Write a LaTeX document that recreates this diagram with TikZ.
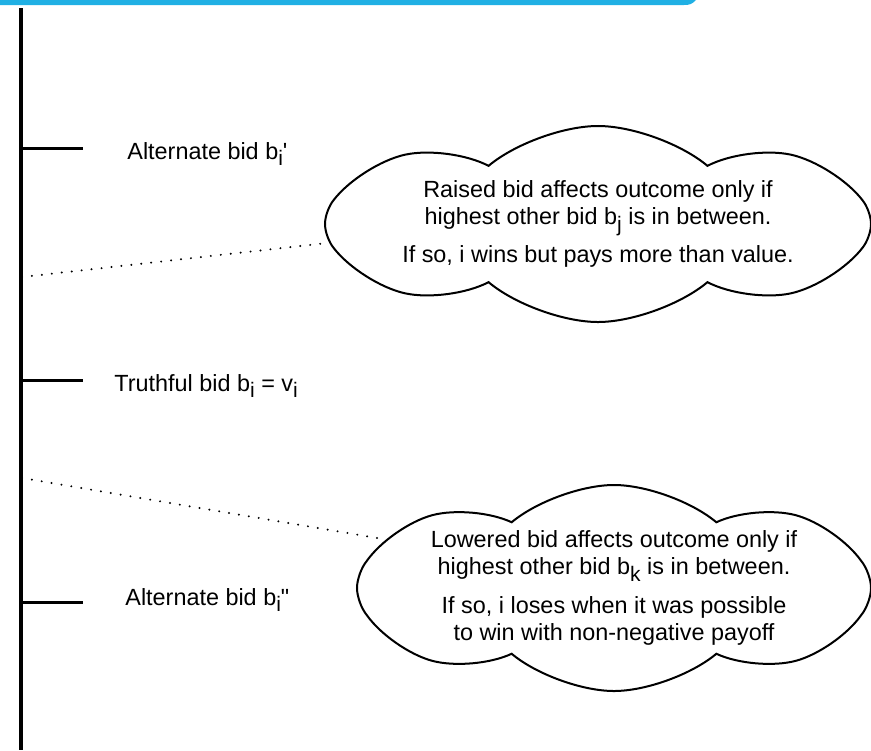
\documentclass[tikz,border=0pt]{standalone}
\usepackage{fontspec}
\setmainfont{Liberation Sans}
\usetikzlibrary{shapes.symbols}
\definecolor{barblue}{RGB}{32,176,228}
\newcommand{\lowsub}[1]{\raisebox{-0.55ex}{\fontsize{10.5}{10.5}\selectfont #1}}

\begin{document}
\begin{tikzpicture}[x=0.5pt, y=-0.5pt,
  tick/.style={line width=1.5pt},
  bidlabel/.style={anchor=base west, inner sep=0pt, font=\fontsize{11.7}{14}\selectfont},
  thought/.style={cloud, draw, line width=1pt, cloud puffs=8, cloud puff arc=80,
    cloud ignores aspect, align=center, inner xsep=0pt, inner ysep=-9pt,
    font=\fontsize{11.7}{13.5}\selectfont},
  link/.style={line width=1.1pt, dash pattern=on 0pt off 5pt, line cap=round}
]
\useasboundingbox (0,0) rectangle (871,750);

% header bar
\fill[barblue] (0,0) -- (696,0) .. controls (692,4) and (690,5) .. (684,5) -- (0,5) -- cycle;

% bid axis with ticks
\coordinate (axistop) at (20.5,8);
\coordinate (axisend) at (20.5,750);
\draw[line width=2pt] (axistop) -- (axisend);

\foreach \y in {148, 380, 602} {
  \draw[tick] (20.5,\y) -- (83,\y);
}

% ============================================
% bid labels
% ============================================
\node[bidlabel] (altup) at (127,159) {Alternate bid b\lowsub{i}\textquotesingle};
\node[bidlabel] (truth) at (114,391) {Truthful bid b\lowsub{i} = v\lowsub{i}};
\node[bidlabel] (altdown) at (125,605) {Alternate bid b\lowsub{i}\textquotedbl};

% ============================================
% thought clouds
% ============================================
\node[thought, minimum width=273pt, minimum height=98pt] (raised) at (598,224)
  {Raised bid affects outcome only if\\
   highest other bid b\lowsub{j} is in between.\\[4pt]
   If so, i wins but pays more than value.};

\node[thought, minimum width=257pt, minimum height=103pt] (lowered) at (614,588)
  {Lowered bid affects outcome only if\\
   highest other bid b\lowsub{k} is in between.\\[6pt]
   If so, i loses when it was possible\\
   to win with non-negative payoff};

% dotted links from the axis
\coordinate (raisedfoot) at (22,277);
\coordinate (loweredfoot) at (22,478);
\draw[link] (raisedfoot) -- (raised.184);
\draw[link] (loweredfoot) -- (lowered.168);

\end{tikzpicture}
\end{document}
